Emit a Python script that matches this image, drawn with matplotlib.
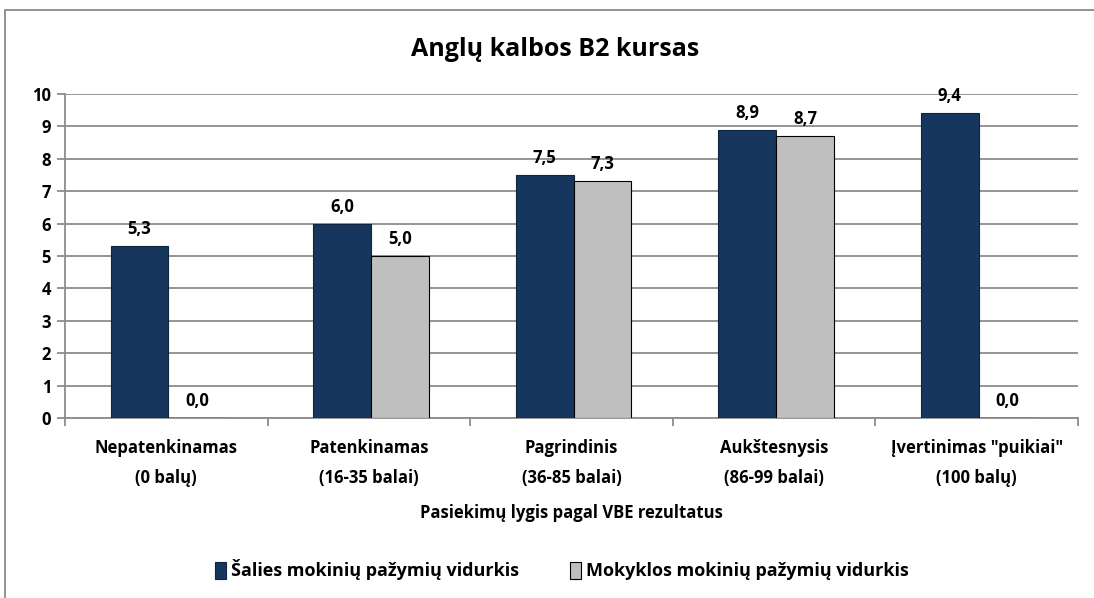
import matplotlib
matplotlib.use("Agg")
import matplotlib.pyplot as plt
import numpy as np
from matplotlib.patches import Rectangle

plt.rcParams['font.family'] = ['Open Sans', 'DejaVu Sans']

categories = ["Nepatenkinamas\n(0 balų)", "Patenkinamas\n(16-35 balai)", "Pagrindinis\n(36-85 balai)",
              "Aukštesnysis\n(86-99 balai)", "Įvertinimas \"puikiai\"\n(100 balų)"]
series_names = ["Šalies mokinių pažymių vidurkis", "Mokyklos mokinių pažymių vidurkis"]
salies = [5.3, 6.0, 7.5, 8.9, 9.4]
mokyklos = [0.0, 5.0, 7.3, 8.7, 0.0]
yticks = list(range(0, 11))

W, H = 1094, 598
fig = plt.figure(figsize=(W/100, H/100), dpi=100)
# outer border
fig.patches.append(Rectangle((5/W, -0.01), 1.1, 1 - 10/H + 0.01, transform=fig.transFigure,
                             fill=False, edgecolor='#808080', lw=1.2))

ax = fig.add_axes([65/W, 1 - 418/H, (1078-65)/W, (418-94)/H])
x = np.arange(len(categories))
bw = 0.285
c1, c2 = '#17365D', '#BFBFBF'
b1 = ax.bar(x - bw/2 + 0.01, salies, bw, color=c1, edgecolor='#0F2440', lw=0.8, zorder=3)
b2 = ax.bar(x + bw/2 + 0.01, mokyklos, bw, color=c2, edgecolor='black', lw=0.8, zorder=3)

for xi, v in zip(x - bw/2 + 0.01, salies):
    ax.text(xi, v + 0.25, f"{v:.1f}".replace('.', ','), ha='center', va='bottom',
            fontsize=12, fontweight='bold', color='black')
for xi, v in zip(x + bw/2 + 0.01, mokyklos):
    ax.text(xi, v + 0.25, f"{v:.1f}".replace('.', ','), ha='center', va='bottom',
            fontsize=12, fontweight='bold', color='black')

ax.set_xlim(-0.5, len(categories) - 0.5)
ax.set_ylim(0, 10)
ax.set_yticks(yticks)
ax.set_yticklabels([str(t) for t in yticks], fontsize=12, fontweight='bold')
ax.yaxis.grid(True, color='#8C8C8C', lw=1.3, zorder=0)
ax.set_axisbelow(True)
ax.set_xticks(np.arange(-0.5, len(categories), 1.0))
ax.set_xticklabels([])
ax.set_xticks(x, minor=True)
ax.set_xticklabels(categories, minor=True, fontsize=12, fontweight='bold', linespacing=1.9)
ax.tick_params(axis='x', which='minor', length=0, pad=15)
ax.tick_params(axis='x', which='major', length=6, color='#8C8C8C', width=1.3)
ax.tick_params(axis='y', length=6, color='#8C8C8C', width=1.3, pad=4)
for s in ['top', 'right']:
    ax.spines[s].set_visible(False)
for s in ['left', 'bottom']:
    ax.spines[s].set_color('#8C8C8C')
    ax.spines[s].set_linewidth(1.3)
ax.set_xlabel("Pasiekimų lygis pagal VBE rezultatus", fontsize=12, fontweight='bold', labelpad=12)

fig.text(555/W, 1 - 50/H, "Anglų kalbos B2 kursas", ha='center', va='center', fontsize=18, fontweight='bold')

leg = fig.legend([b1, b2], series_names, loc='center', bbox_to_anchor=(562/W, 1 - 570/H), ncol=2,
                 frameon=False, prop={'size': 13, 'weight': 'bold'}, handlelength=0.6,
                 handleheight=1.1, handletextpad=0.3, columnspacing=2.8)

fig.savefig("out.png", dpi=100)
